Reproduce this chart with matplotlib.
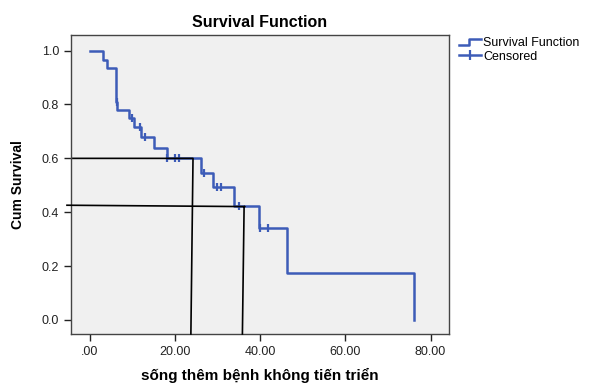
import matplotlib
matplotlib.use("Agg")
import matplotlib.pyplot as plt
from matplotlib.lines import Line2D
from matplotlib.legend_handler import HandlerBase

plt.rcParams['font.family'] = ['Liberation Sans', 'DejaVu Sans']

# survival curve (time, cum survival after the step)
times = [0, 3.0, 3.9, 6.0, 6.4, 9.15, 10.3, 12.1, 15.1, 18.1, 26.0, 28.9, 33.9, 39.8, 46.2, 76.0]
surv = [1.0, 0.967, 0.936, 0.811, 0.78, 0.751, 0.716, 0.681, 0.64, 0.6, 0.547, 0.494, 0.423, 0.34, 0.173, 0.0]

# censored observations
cens_t = [6.3, 9.8, 11.7, 12.9, 18.0, 20.0, 20.8, 26.8, 29.9, 30.7, 35.0, 40.0, 41.9]
cens_s = [0.811, 0.751, 0.716, 0.681, 0.6, 0.6, 0.6, 0.547, 0.494, 0.494, 0.423, 0.34, 0.34]

# hand drawn reading lines
guide1_x = [-4.0, 24.2, 23.7]
guide1_y = [0.6, 0.6, -0.052]
guide2_x = [-5.4, 36.4, 36.2, 35.8]
guide2_y = [0.426, 0.421, 0.421, -0.052]

xticks = [0, 20, 40, 60, 80]
xtick_labels = ['.00', '20.00', '40.00', '60.00', '80.00']
yticks = [0.0, 0.2, 0.4, 0.6, 0.8, 1.0]

blue = '#3d5cb8'


class StepHandler(HandlerBase):
    def create_artists(self, legend, orig_handle, xdescent, ydescent,
                       width, height, fontsize, trans):
        h = height
        xs = [0, width * 0.45, width * 0.45, width]
        ys = [h * 0.15, h * 0.15, h * 0.85, h * 0.85]
        ln = Line2D(xs, ys, color=blue, lw=1.8, transform=trans)
        return [ln]


fig = plt.figure(figsize=(5.93, 3.83), dpi=100)
ax = fig.add_axes([0.1197, 0.128, 0.757 - 0.1197, 0.9086 - 0.128])
ax.set_facecolor('#f0f0f0')

ax.step(times, surv, where='post', color=blue, lw=1.8, zorder=3)
ax.plot(cens_t, cens_s, linestyle='none', marker='|', markersize=6,
        markeredgewidth=1.6, color=blue, zorder=3)

ax.plot(guide1_x, guide1_y, color='black', lw=1.2, clip_on=False, zorder=4)
ax.plot(guide2_x, guide2_y, color='black', lw=1.2, clip_on=False, zorder=4)

ax.set_xlim(-4.46, 84.3)
ax.set_ylim(-0.052, 1.058)
ax.set_xticks(xticks)
ax.set_xticklabels(xtick_labels)
ax.set_yticks(yticks)
ax.set_yticklabels(['%.1f' % v for v in yticks])
ax.tick_params(direction='out', length=5, width=1, labelsize=9, colors='#222222')

for sp in ax.spines.values():
    sp.set_color('#444444')
    sp.set_linewidth(1.0)

ax.set_title('Survival Function', fontsize=11.5, fontweight='bold', pad=6)
ax.set_xlabel('sống thêm bệnh không tiến triển', fontsize=11, fontweight='bold', labelpad=7)
ax.set_ylabel('Cum Survival', fontsize=10, fontweight='bold', labelpad=12)

h1 = Line2D([], [], color=blue, lw=1.8)
h2 = Line2D([0], [0], color=blue, lw=1.8, marker='|', markersize=7, markeredgewidth=1.6)
fig.legend([h1, h2], ['Survival Function', 'Censored'],
           handler_map={h1: StepHandler()},
           loc='upper left', bbox_to_anchor=(0.76, 0.925),
           frameon=False, fontsize=9, handlelength=1.7, handletextpad=0.2,
           labelspacing=0.1, borderpad=0.2)

fig.savefig('out.png', dpi=100)
